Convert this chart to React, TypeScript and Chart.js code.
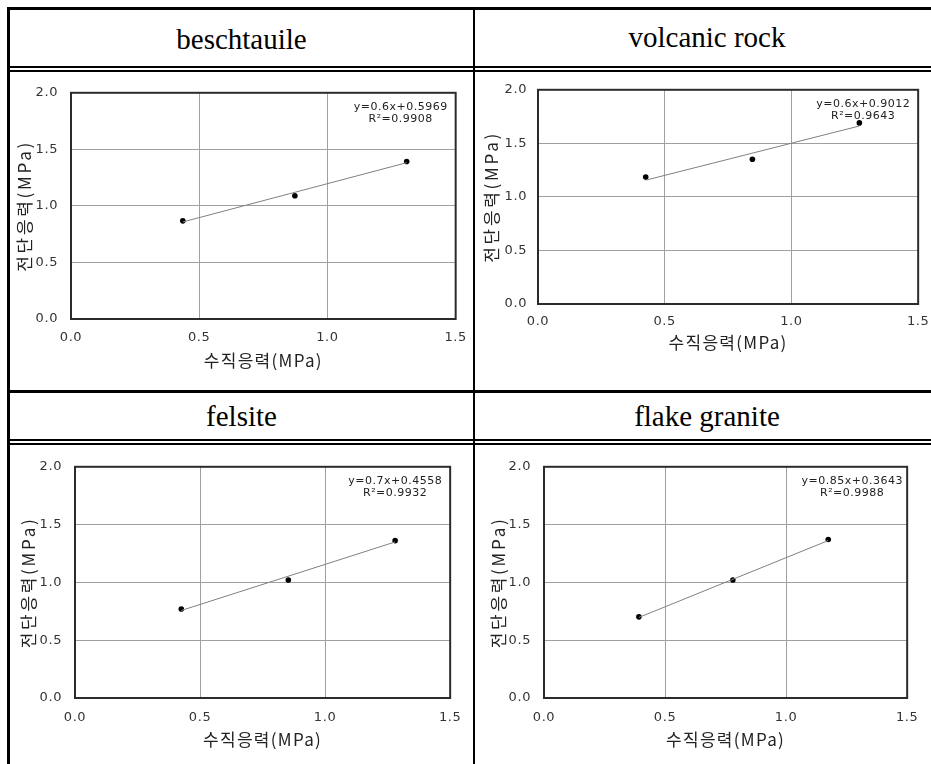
import React, { useEffect, useRef } from "react";
import { Chart, registerables } from "chart.js";
Chart.register(...registerables);

// ---------- data ----------
const panelTitles = ["beschtauile", "volcanic rock", "felsite", "flake granite"];
const xAxisTitle = "수직응력(MPa)";
const yAxisTitle = "전단응력(MPa)";
const xTickValues = [0, 0.5, 1.0, 1.5];
const yTickValues = [0, 0.5, 1.0, 1.5, 2.0];

const beschX = [0.436, 0.873, 1.309];
const beschY = [0.868, 1.09, 1.392];
const beschTrendX = [0.436, 1.309];
const beschTrendY = [0.858, 1.382];
const beschEq = ["y=0.6x+0.5969", "R²=0.9908"];

const volcX = [0.425, 0.846, 1.268];
const volcY = [1.185, 1.352, 1.691];
const volcTrendX = [0.425, 1.268];
const volcTrendY = [1.156, 1.662];
const volcEq = ["y=0.6x+0.9012", "R²=0.9643"];

const felsX = [0.425, 0.853, 1.28];
const felsY = [0.77, 1.021, 1.361];
const felsTrendX = [0.425, 1.28];
const felsTrendY = [0.757, 1.35];
const felsEq = ["y=0.7x+0.4558", "R²=0.9932"];

const flakeX = [0.392, 0.78, 1.174];
const flakeY = [0.702, 1.021, 1.371];
const flakeTrendX = [0.392, 1.174];
const flakeTrendY = [0.697, 1.362];
const flakeEq = ["y=0.85x+0.3643", "R²=0.9988"];

// ---------- layout (positions only) ----------
type PanelCfg = {
  xs: number[]; ys: number[]; tx: number[]; ty: number[]; eq: string[];
  left: number; top: number; width: number; height: number;
  yTickPad: number; xTickPad: number; xTitlePad: number; yTitlePad: number;
};

const panels: PanelCfg[] = [
  { xs: beschX, ys: beschY, tx: beschTrendX, ty: beschTrendY, eq: beschEq,
    left: 11, top: 72, width: 466, height: 307, yTickPad: 13, xTickPad: 11, xTitlePad: 8, yTitlePad: 3 },
  { xs: volcX, ys: volcY, tx: volcTrendX, ty: volcTrendY, eq: volcEq,
    left: 478, top: 71, width: 460, height: 293, yTickPad: 11, xTickPad: 9.5, xTitlePad: 11, yTitlePad: 3 },
  { xs: felsX, ys: felsY, tx: felsTrendX, ty: felsTrendY, eq: felsEq,
    left: 15, top: 446, width: 457, height: 312, yTickPad: 13, xTickPad: 11.5, xTitlePad: 8.5, yTitlePad: 3 },
  { xs: flakeX, ys: flakeY, tx: flakeTrendX, ty: flakeTrendY, eq: flakeEq,
    left: 484, top: 446, width: 445, height: 312, yTickPad: 13, xTickPad: 11.5, xTitlePad: 8.5, yTitlePad: 4 },
];

const tickFont = { family: "'DejaVu Sans', sans-serif", size: 13 };
const axisTitleFont = { family: "'Noto Sans CJK KR', sans-serif", size: 17, weight: "normal" as const };

// wrap a scale's title / label drawing with canvas letter spacing
function spaceScale(s: any, titleSpacing: string, labelSpacing: string) {
  if (s.__spaced) return;
  s.__spaced = true;
  const origTitle = s.drawTitle.bind(s);
  const origLabels = s.drawLabels.bind(s);
  s.drawTitle = (...args: any[]) => {
    const c = s.ctx;
    c.save();
    c.letterSpacing = titleSpacing;
    origTitle(...args);
    c.restore();
  };
  s.drawLabels = (...args: any[]) => {
    const c = s.ctx;
    c.save();
    c.letterSpacing = labelSpacing;
    origLabels(...args);
    c.restore();
  };
}

const framePlugin = {
  id: "frameAndEq",
  afterDraw(chart: any) {
    const { ctx, chartArea } = chart;
    const { left, top, right, bottom } = chartArea;
    ctx.save();
    ctx.strokeStyle = "#2b2b2b";
    ctx.lineWidth = 2;
    ctx.strokeRect(left, top, right - left, bottom - top);
    const eq: string[] = chart.options.plugins.frameAndEq.eq;
    ctx.fillStyle = "#222";
    ctx.font = "11px 'DejaVu Sans', sans-serif";
    (ctx as any).letterSpacing = "0.5px";
    ctx.textAlign = "center";
    ctx.textBaseline = "middle";
    ctx.fillText(eq[0], right - 55, top + 14.5);
    ctx.fillText(eq[1], right - 55, top + 26.5);
    ctx.restore();
  },
};

function Panel({ cfg }: { cfg: PanelCfg }) {
  const ref = useRef<HTMLCanvasElement | null>(null);
  useEffect(() => {
    if (!ref.current) return;
    const chart = new Chart(ref.current, {
      type: "scatter",
      data: {
        datasets: [
          {
            data: cfg.tx.map((x, i) => ({ x, y: cfg.ty[i] })),
            showLine: true,
            borderColor: "#808080",
            borderWidth: 1,
            pointRadius: 0,
            backgroundColor: "#808080",
          },
          {
            data: cfg.xs.map((x, i) => ({ x, y: cfg.ys[i] })),
            showLine: false,
            pointRadius: 2.8,
            pointBorderWidth: 0,
            backgroundColor: "#000",
            borderColor: "#000",
          },
        ],
      },
      options: {
        responsive: false,
        animation: false,
        layout: { padding: { top: 8, right: 16, left: 0, bottom: 0 } },
        plugins: {
          legend: { display: false },
          tooltip: { enabled: false },
          frameAndEq: { eq: cfg.eq },
        } as any,
        scales: {
          x: {
            type: "linear",
            min: 0,
            max: 1.5,
            afterBuildTicks: (s: any) => { s.ticks = xTickValues.map((v) => ({ value: v })); },
            afterFit: (s: any) => { s.height = 60; spaceScale(s, "1.3px", "0.6px"); },
            ticks: {
              font: tickFont,
              color: "#333",
              padding: cfg.xTickPad,
              maxRotation: 0,
              callback: (v: any) => Number(v).toFixed(1),
            },
            grid: { color: "#a0a0a0", lineWidth: 1, drawTicks: false },
            border: { display: false },
            title: {
              display: true,
              text: xAxisTitle,
              font: axisTitleFont,
              color: "#222",
              padding: { top: 0, bottom: cfg.xTitlePad },
            },
          },
          y: {
            type: "linear",
            min: 0,
            max: 2,
            afterBuildTicks: (s: any) => { s.ticks = yTickValues.map((v) => ({ value: v })); },
            afterFit: (s: any) => { s.width = 60; spaceScale(s, "2.7px", "0.6px"); },
            ticks: {
              font: tickFont,
              color: "#333",
              padding: cfg.yTickPad,
              callback: (v: any) => Number(v).toFixed(1),
            },
            grid: { color: "#a0a0a0", lineWidth: 1, drawTicks: false },
            border: { display: false },
            title: {
              display: true,
              text: yAxisTitle,
              font: axisTitleFont,
              color: "#222",
              padding: { top: cfg.yTitlePad, bottom: 0 },
            },
          },
        },
      },
      plugins: [framePlugin],
    } as any);
    return () => chart.destroy();
  }, [cfg]);
  return (
    <canvas
      ref={ref}
      width={cfg.width}
      height={cfg.height}
      style={{ position: "absolute", left: cfg.left, top: cfg.top, width: cfg.width, height: cfg.height }}
    />
  );
}

const line = (left: number, top: number, width: number, height: number) => (
  <div style={{ position: "absolute", left, top, width, height, background: "#000" }} />
);

const titleBox = (text: string, left: number, width: number, baseline: number) => (
  <div
    style={{
      position: "absolute",
      left,
      width,
      top: baseline - 25.8,
      height: 32,
      lineHeight: "32px",
      fontFamily: "'Liberation Serif', serif",
      fontSize: 29,
      textAlign: "center",
      color: "#000",
      whiteSpace: "nowrap",
    }}
  >
    {text}
  </div>
);

export default function App() {
  return (
    <div style={{ position: "fixed", left: 0, top: 0, width: 931, height: 764, overflow: "hidden", background: "#fff" }}>
      {panels.map((p, i) => (
        <Panel key={i} cfg={p} />
      ))}
      {titleBox(panelTitles[0], 10, 463, 49)}
      {titleBox(panelTitles[1], 475, 464, 47)}
      {titleBox(panelTitles[2], 10, 463, 426)}
      {titleBox(panelTitles[3], 475, 464, 425.5)}
      {line(7, 7, 924, 3)}
      {line(7, 7, 3, 757)}
      {line(473, 10, 2, 754)}
      {line(10, 66, 921, 2)}
      {line(10, 70, 921, 2)}
      {line(10, 390, 921, 3)}
      {line(10, 439, 921, 2)}
      {line(10, 443, 921, 2)}
    </div>
  );
}
